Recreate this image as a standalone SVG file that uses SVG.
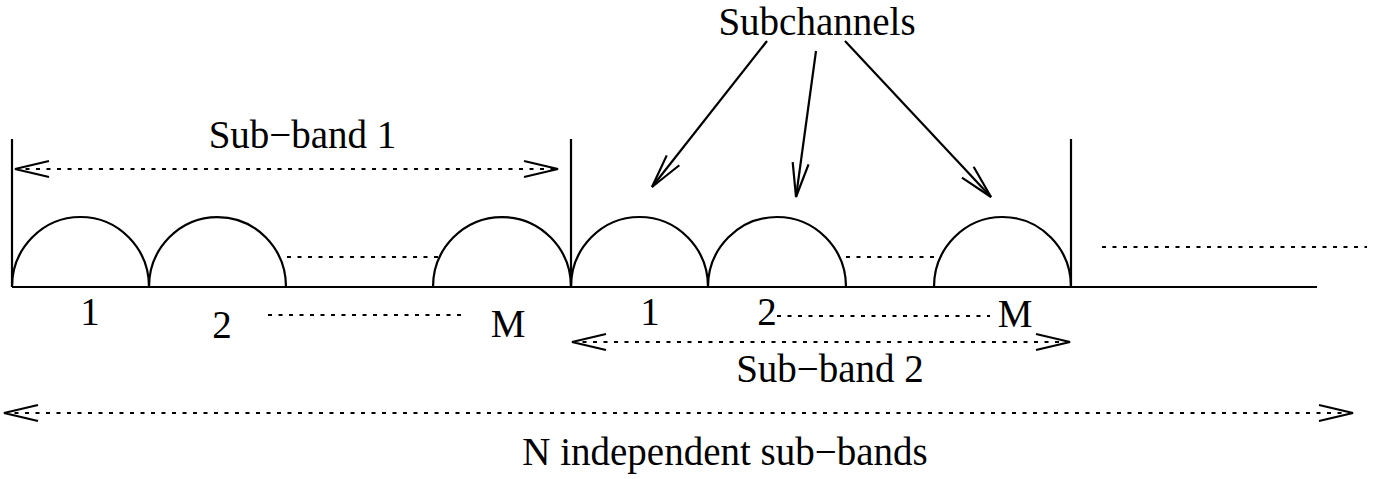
<svg xmlns="http://www.w3.org/2000/svg" width="1385" height="479" viewBox="0 0 1385 479">
<style>
.s{fill:none;stroke:#000;stroke-width:2.2}
.d{fill:none;stroke:#000;stroke-width:2.2;stroke-dasharray:4 6.5}
.t{font-family:"Liberation Serif","Times New Roman",serif;font-size:39px;fill:#000;text-anchor:middle}
</style>
<defs>
<marker id="ah" markerUnits="userSpaceOnUse" markerWidth="40" markerHeight="20" refX="0" refY="0" orient="auto-start-reverse" overflow="visible">
<path d="M-34,-8 L0,0 L-34,8" fill="none" stroke="#000" stroke-width="2.2" stroke-dasharray="none"/>
</marker>
</defs>
<rect width="1385" height="479" fill="#fff"/>
<g id="axis">
<line class="s" x1="12" y1="287" x2="1317" y2="287"/>
<line class="s" x1="12" y1="139" x2="12" y2="287"/>
<line class="s" x1="571" y1="139" x2="571" y2="287"/>
<line class="s" x1="1071" y1="139" x2="1071" y2="287"/>
</g>
<g id="subband1">
<path class="s" d="M12,287 A68.5,70 0 0 1 149,287"/>
<path class="s" d="M149,287 A68.5,70 0 0 1 286,287"/>
<path class="s" d="M433,287 A69,70 0 0 1 571,287"/>
<line class="d" x1="287" y1="257" x2="441" y2="257"/>
<text class="t" x="90" y="325">1</text>
<text class="t" x="222" y="338">2</text>
<text class="t" x="508" y="337">M</text>
<line class="d" x1="268" y1="315" x2="467" y2="315"/>
<text class="t" x="302.5" y="148">Sub−band 1</text>
</g>
<g id="subband2">
<path class="s" d="M571,287 A68.5,70 0 0 1 708,287"/>
<path class="s" d="M708,287 A69,70 0 0 1 846,287"/>
<path class="s" d="M934,287 A68.5,70 0 0 1 1071,287"/>
<line class="d" x1="846" y1="257" x2="938" y2="257"/>
<text class="t" x="650" y="325">1</text>
<text class="t" x="767" y="325">2</text>
<text class="t" x="1015" y="327">M</text>
<line class="d" x1="777" y1="316" x2="990" y2="316"/>
<text class="t" x="830" y="382">Sub−band 2</text>
</g>
<g id="more">
<line class="d" x1="1102" y1="247" x2="1367" y2="247"/>
</g>
<g id="subchannels">
<text class="t" x="817" y="35">Subchannels</text>
</g>
<g id="total">
<text class="t" x="725" y="465">N independent sub−bands</text>
</g>
<g id="connectors">
<line class="d" x1="15" y1="169" x2="558" y2="169" marker-start="url(#ah)" marker-end="url(#ah)"/>
<line class="d" x1="572" y1="342" x2="1070" y2="342" marker-start="url(#ah)" marker-end="url(#ah)"/>
<line class="d" x1="4" y1="413" x2="1353" y2="413" marker-start="url(#ah)" marker-end="url(#ah)"/>
<line class="s" x1="767" y1="41" x2="652" y2="187" marker-end="url(#ah)"/>
<line class="s" x1="816" y1="51" x2="796" y2="197" marker-end="url(#ah)"/>
<line class="s" x1="845" y1="41" x2="991" y2="197" marker-end="url(#ah)"/>
</g>
</svg>
